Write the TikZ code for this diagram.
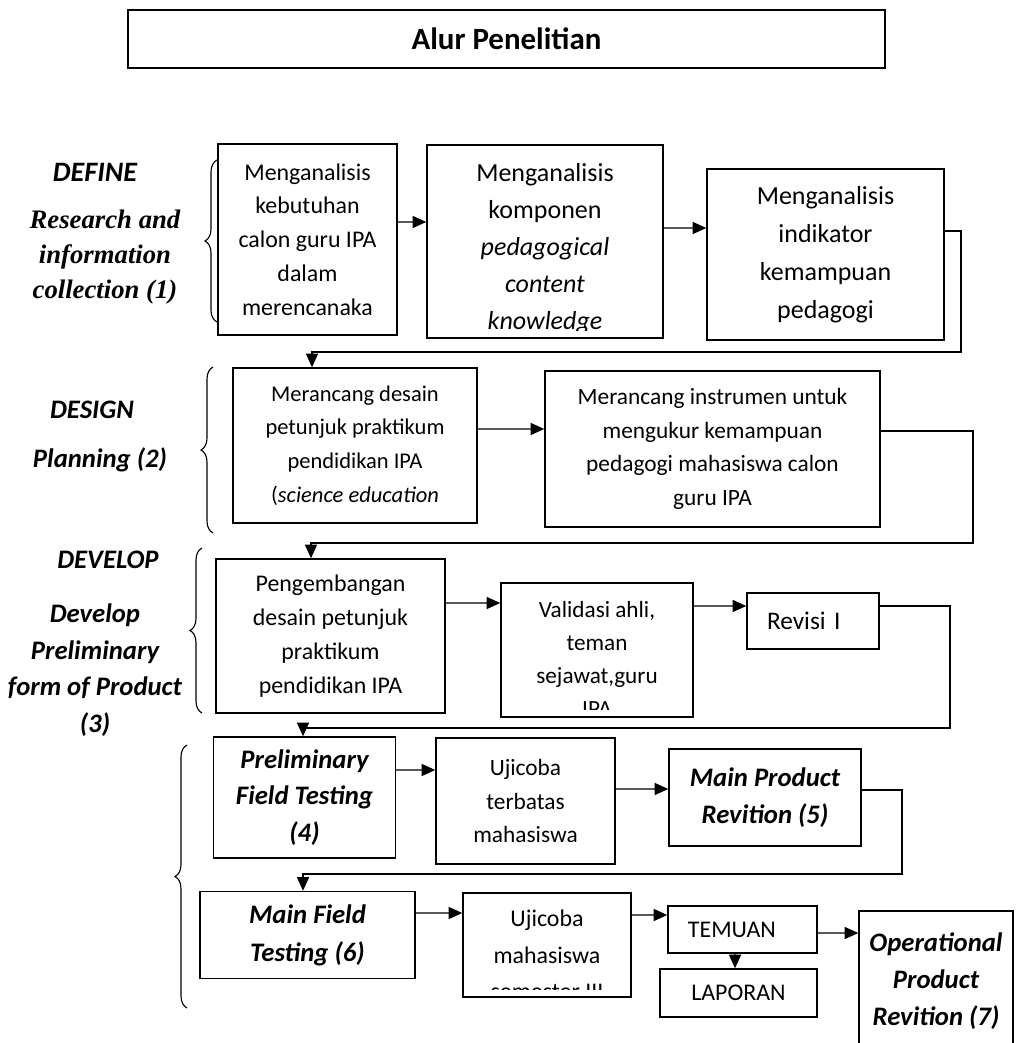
\documentclass[tikz,border=0pt]{standalone}
\usepackage{fontspec}
\setmainfont{Carlito}
\newfontfamily\timesfont{Liberation Serif}
\usetikzlibrary{arrows.meta, decorations.pathreplacing}

\newcommand{\setfs}[2]{\fontsize{#1}{#2}\selectfont}

\begin{document}
\begin{tikzpicture}[
    x=0.025cm, y=-0.025cm,
    box/.style={draw, line width=1pt, align=center, inner sep=2pt, font=\setfs{17}{24}},
    bi/.style={font=\setfs{19}{26}\bfseries\itshape},
    lbl/.style={align=center, font=\setfs{19}{26}\bfseries\itshape},
    arr/.style={-{Triangle[length=0.34cm, width=0.3cm]}, line width=1pt},
    brc/.style={decorate, decoration={brace, amplitude=0.3cm}, line width=0.8pt},
]
\useasboundingbox (0,0) rectangle (1020,1043);

% --- Titre ---
\node[box, minimum width=18.925cm, minimum height=1.45cm, font=\setfs{22}{26}\bfseries] (title) at (506.5,39) {Alur Penelitian};

% --- Etiquettes de gauche ---
\node[lbl, font=\setfs{20}{26}\bfseries\itshape] (define) at (95,172) {DEFINE};
\node[align=center, font=\setfs{19}{25}\timesfont\bfseries\itshape] (research) at (105,257) {Research and\\information\\collection (1)};
\node[lbl] (design) at (92,410) {DESIGN};
\node[lbl] (planning) at (100,460) {Planning (2)};
\node[lbl] (develop) at (108,560) {DEVELOP};
\node[lbl] (prelim) at (95,670) {Develop\\Preliminary\\form of Product\\(3)};

% --- Accolades ---
\draw[brc] (217,322) -- (217,160);
\draw[brc] (213,533) -- (213,367);
\draw[brc] (202,713) -- (202,548);
\draw[brc] (187,1008) -- (187,745);

% --- Define (1) ---
\node[box, minimum width=4.475cm, minimum height=4.775cm] (b1) at (307.5,239.5) {Menganalisis\\kebutuhan\\calon guru IPA\\dalam\\merencanaka};
\node[box, minimum width=5.9cm, minimum height=4.825cm] (b2) at (545,241.5) {};
\begin{scope}
  \clip ([yshift=0.2cm]b2.south west) rectangle (b2.north east);
  \node[align=center, font=\setfs{18.5}{26.3}] (b2t) at (545,249) {Menganalisis\\komponen\\\textit{pedagogical}\\\textit{content}\\\textit{knowledge}};
\end{scope}
\node[box, minimum width=5.925cm, minimum height=4.275cm, font=\setfs{18.5}{27}] (b3) at (825.5,254.5) {Menganalisis\\indikator\\kemampuan\\pedagogi};

% --- Design (2) ---
\node[box, minimum width=6.1cm, minimum height=3.875cm, font=\setfs{16}{24}] (b4) at (355,445.5) {Merancang desain\\petunjuk praktikum\\pendidikan IPA\\(\textit{science education}};
\node[box, minimum width=8.375cm, minimum height=3.9cm, font=\setfs{16.6}{24}] (b5) at (712.5,449) {Merancang instrumen untuk\\mengukur kemampuan\\pedagogi mahasiswa calon\\guru IPA};

% --- Develop (3) ---
\node[box, minimum width=5.725cm, minimum height=3.85cm] (b6) at (330.5,636) {Pengembangan\\desain petunjuk\\praktikum\\pendidikan IPA};
\node[box, minimum width=4.8cm, minimum height=3.35cm] (b7) at (597,650) {};
\begin{scope}
  \clip ([yshift=0.2cm]b7.south west) rectangle (b7.north east);
  \node[align=center, font=\setfs{16.5}{23.5}] (b7t) at (597,659) {Validasi ahli,\\teman\\sejawat,guru\\IPA};
\end{scope}
\node[box, text width=2.3cm, inner xsep=0.5cm, minimum height=1.4cm, align=left, font=\setfs{18}{24}] (b8) at (813,621) {Revisi I};

% --- Preliminary field testing (4) et (5) ---
\node[box, bi, minimum width=4.55cm, minimum height=3.025cm] (b9) at (304.5,797.5) {Preliminary\\Field Testing\\(4)};
\node[box, minimum width=4.475cm, minimum height=3.15cm, font=\setfs{16.6}{23.5}] (b10) at (525.5,801) {Ujicoba\\terbatas\\mahasiswa};
\node[box, bi, minimum width=4.8cm, minimum height=2.425cm] (b11) at (765,797.5) {Main Product\\Revition (5)};

% --- Main field testing (6) et (7) ---
\node[box, bi, minimum width=5.375cm, minimum height=2.175cm, font=\setfs{19}{27}\bfseries\itshape] (b12) at (307.5,935) {Main Field\\Testing (6)};
\node[box, minimum width=4.2cm, minimum height=2.6cm] (b13) at (547,945) {};
\begin{scope}
  \clip ([yshift=0.2cm]b13.south west) rectangle (b13.north east);
  \node[align=center, font=\setfs{17}{26}] (b13t) at (547,955) {Ujicoba\\mahasiswa\\semester III};
\end{scope}
\node[box, text width=2.725cm, inner xsep=0.5cm, minimum height=1.175cm, align=left] (b14) at (742.5,929.5) {TEMUAN};
\node[box, minimum width=3.925cm, minimum height=1.2cm] (b15) at (738.5,993) {LAPORAN};
\node[box, bi, minimum width=3.85cm, minimum height=3.5cm, font=\setfs{19}{26.5}\bfseries\itshape] (b16) at (936,981) {Operational\\Product\\Revition (7)};

% --- Flux horizontal ---
\draw[arr] ([yshift=0.4375cm]b1.east) -- ([yshift=0.4875cm]b2.west);
\draw[arr] ([yshift=0.3375cm]b2.east) -- ([yshift=0.6625cm]b3.west);
\draw[arr] ([yshift=0.4125cm]b4.east) -- ([yshift=0.5cm]b5.west);
\draw[arr] ([yshift=0.825cm]b6.east) -- ([yshift=1.175cm]b7.west);
\draw[arr] ([yshift=1.1cm]b7.east) -- ([yshift=0.375cm]b8.west);
\draw[arr] ([yshift=0.6875cm]b9.east) -- ([yshift=0.775cm]b10.west);
\draw[arr] ([yshift=0.3cm]b10.east) -- ([yshift=0.2125cm]b11.west);
\draw[arr] ([yshift=0.55cm]b12.east) -- ([yshift=0.8cm]b13.west);
\draw[arr] ([yshift=0.75cm]b13.east) -- ([yshift=0.3625cm]b14.west);
\draw[arr] ([yshift=-0.0875cm]b14.east) -- ([yshift=1.2cm]b16.west);
\draw[arr] ([xshift=-0.1875cm]b14.south) -- ([xshift=-0.0875cm]b15.north);

% --- Retours vers la ligne suivante ---
\coordinate (r1) at (961,352);
\coordinate (r2) at (973,543);
\coordinate (r3) at (950,728);
\coordinate (r4) at (902,874);
\draw[arr] ([yshift=0.5875cm]b3.east) -| (r1) -| ([xshift=-1.075cm]b4.north);
\draw[arr] ([yshift=0.45cm]b5.east) -| (r2) -| ([xshift=-0.4875cm]b6.north);
\draw[arr] ([yshift=0.375cm]b8.east) -| (r3) -| ([xshift=-0.0375cm]b9.north);
\draw[arr] ([yshift=0.1875cm]b11.east) -| (r4) -| ([xshift=-0.1125cm]b12.north);

\end{tikzpicture}
\end{document}
